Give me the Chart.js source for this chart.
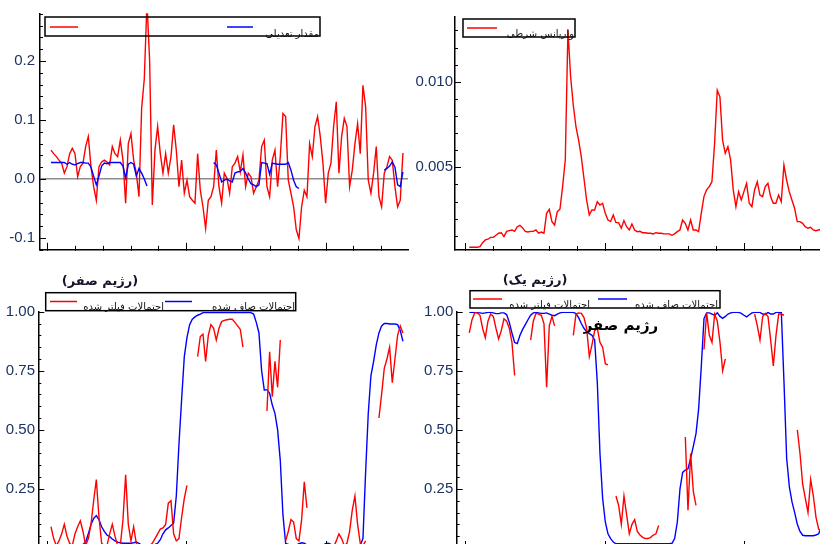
<!DOCTYPE html>
<html>
<head>
<meta charset="utf-8">
<script src="https://cdn.jsdelivr.net/npm/chart.js@4.4.1/dist/chart.umd.min.js"></script>
<style>
  html, body { margin: 0; padding: 0; width: 820px; height: 544px; overflow: hidden; background: #fff; }
  canvas { position: absolute; }
  .cap { position: absolute; font-family: "DejaVu Sans", sans-serif; font-weight: bold; white-space: nowrap; direction: rtl; text-align: center; color: #14142a; }
</style>
</head>
<body>
<canvas id="c1" width="415" height="262" style="left:0;top:0"></canvas>
<canvas id="c2" width="420" height="262" style="left:410px;top:0"></canvas>
<canvas id="c3" width="415" height="300" style="left:0;top:260px"></canvas>
<canvas id="c4" width="420" height="300" style="left:410px;top:260px"></canvas>
<div class="cap" style="left:50px;top:273px;width:100px;font-size:13px">(رژیم صفر)</div>
<div class="cap" style="left:485px;top:272px;width:100px;font-size:13px">(رژیم یک)</div>
<div class="cap" style="left:581px;top:316px;width:80px;font-size:15px;color:#000">رژیم صفر</div>
<script>
const gap = n => Array(n).fill(null);

// top left: adjusted value (red) and its smoothed counterpart (blue)
const adjRed = [0.049,0.043,0.038,0.032,0.027,0.010,0.021,0.043,0.052,0.043,
  0.004,0.021,0.027,0.055,0.072,0.021,-0.013,-0.036,0.021,0.029,
  0.032,0.029,0.024,0.055,0.043,0.038,0.066,0.032,-0.041,0.060,
  0.077,0.032,0.010,-0.030,0.120,0.170,0.300,0.200,-0.044,0.049,
  0.089,0.043,0.010,0.043,0.010,0.038,0.092,0.049,-0.013,0.032,
  -0.024,-0.002,-0.030,-0.036,-0.041,0.043,-0.019,-0.047,-0.084,-0.036,
  -0.030,-0.013,0.049,-0.013,-0.041,0.010,0.001,-0.024,0.021,0.027,
  0.038,0.012,0.041,-0.013,0.010,0.004,-0.024,-0.013,-0.002,0.055,
  0.066,-0.013,-0.030,0.032,0.049,-0.013,0.038,0.111,0.106,-0.002,
  -0.024,-0.047,-0.086,-0.101,-0.047,-0.019,-0.030,0.060,0.038,0.089,
  0.106,0.072,0.027,-0.041,0.010,0.027,0.089,0.131,0.010,0.072,
  0.103,0.089,-0.013,0.015,0.060,0.094,0.043,0.159,0.123,-0.002,
  -0.024,0.010,0.055,-0.030,-0.047,0.010,0.021,0.038,0.032,-0.013,
  -0.047,-0.036,0.044];
const adjBlue = [0.028,0.028,0.028,0.028,0.028,0.028,0.025,0.028,0.025,0.024,
  0.026,0.028,0.028,0.027,0.027,0.020,0.005,-0.010,0.005,0.022,
  0.027,0.026,0.028,0.028,0.028,0.028,0.028,0.022,0.002,0.025,
  0.028,0.025,0.005,0.018,0.010,0.000,-0.012,
  ...gap(24),
  0.028,0.024,0.010,-0.005,-0.002,0.000,-0.003,-0.005,0.010,0.012,
  0.013,0.018,0.010,0.000,-0.008,-0.010,-0.013,-0.010,0.028,0.027,
  0.026,0.008,0.027,0.026,0.025,0.025,0.025,0.025,0.028,0.015,
  -0.002,-0.013,-0.016,
  ...gap(31),
  0.015,0.018,0.022,0.029,0.020,-0.010,-0.013,0.012];

// top right: conditional variance
const condVar = [0.00033,0.00033,0.00033,0.00033,0.00037,0.00060,0.00076,0.00080,0.00091,0.00091,
  0.00103,0.00115,0.00118,0.00095,0.00126,0.00130,0.00134,0.00126,0.00153,0.00161,
  0.00146,0.00126,0.00122,0.00126,0.00126,0.00134,0.00115,0.00122,0.00115,0.00231,
  0.00255,0.00183,0.00163,0.00241,0.00255,0.00387,0.00543,0.01302,0.01029,0.00864,
  0.00737,0.00659,0.00562,0.00436,0.00309,0.00222,0.00251,0.00251,0.00299,0.00280,
  0.00290,0.00231,0.00192,0.00183,0.00222,0.00177,0.00177,0.00144,0.00189,0.00153,
  0.00134,0.00169,0.00134,0.00124,0.00126,0.00118,0.00118,0.00115,0.00115,0.00111,
  0.00118,0.00115,0.00115,0.00111,0.00111,0.00111,0.00103,0.00111,0.00124,0.00134,
  0.00192,0.00173,0.00134,0.00192,0.00134,0.00134,0.00124,0.00231,0.00329,0.00368,
  0.00387,0.00416,0.00640,0.00951,0.00912,0.00659,0.00582,0.00621,0.00543,0.00368,
  0.00270,0.00358,0.00309,0.00358,0.00406,0.00290,0.00270,0.00368,0.00416,0.00338,
  0.00329,0.00387,0.00406,0.00329,0.00290,0.00290,0.00338,0.00299,0.00513,0.00426,
  0.00358,0.00309,0.00261,0.00183,0.00183,0.00173,0.00153,0.00144,0.00150,0.00134,
  0.00130,0.00134,0.00138];

// bottom left: regime zero probabilities
const r0Filtered = [0.09,0.04,0.01,0.03,0.06,0.10,0.05,0.02,0.01,0.06,
  0.09,0.115,0.07,0.01,0.04,0.10,0.20,0.29,0.13,0.02,
  0.01,0.01,0.06,0.10,0.05,0.01,0.01,0.12,0.31,0.10,
  0.03,0.09,0.02,0.005,0.005,0.005,0.005,0.01,0.02,0.04,
  0.06,0.08,0.085,0.10,0.19,0.20,0.06,0.03,0.04,0.13,
  0.21,0.265,
  ...gap(3),
  0.81,0.895,0.905,0.79,0.90,0.945,0.93,0.88,0.93,0.958,
  0.963,0.966,0.968,0.968,0.955,0.94,0.925,0.85,
  ...gap(8),
  0.58,0.83,0.64,0.79,0.68,0.88,
  ...gap(1),
  0.03,0.07,0.12,0.11,0.04,0.03,0.12,0.28,0.17,
  ...gap(9),
  0.005,0.03,0.06,0.04,0.01,0.02,0.07,0.16,0.22,0.10,0.02,0.01,0.03,
  ...gap(4),
  0.55,0.65,0.76,0.80,0.85,0.70,0.80,0.90,0.94,0.91];
const r0Smoothed = [0.010,0.010,0.010,0.010,0.010,0.010,0.010,0.010,0.010,0.010,
  0.010,0.012,0.015,0.025,0.06,0.10,0.125,0.137,0.12,0.09,
  0.07,0.055,0.048,0.038,0.030,0.025,0.022,0.020,0.020,0.020,
  0.020,0.022,0.025,0.020,0.012,0.008,0.008,0.010,0.012,0.015,
  0.020,0.035,0.06,0.077,0.085,0.095,0.105,0.22,0.44,0.63,
  0.81,0.89,0.945,0.968,0.978,0.985,0.99,0.996,0.996,0.996,
  0.996,0.996,0.996,0.996,0.996,0.996,0.996,0.996,0.996,0.996,
  0.996,0.996,0.996,0.996,0.996,0.996,0.99,0.955,0.91,0.75,
  0.668,0.67,0.655,0.605,0.57,0.50,0.37,0.14,0.02,0.015,
  0.01,0.01,0.012,0.018,0.022,0.02,0.012,0.008,0.008,0.008,
  0.008,0.008,0.012,0.018,0.02,0.015,0.008,0.008,0.008,0.008,
  0.008,0.008,0.008,0.008,0.008,0.008,0.012,0.04,0.32,0.57,
  0.73,0.79,0.86,0.91,0.94,0.95,0.95,0.948,0.948,0.948,
  0.945,0.92,0.875];

// bottom right: regime one probabilities
const r1Filtered = [0.91,0.965,0.995,0.995,0.985,0.93,0.89,0.96,0.99,0.98,
  0.93,0.885,0.92,0.97,0.96,0.93,0.87,0.73,
  ...gap(5),
  0.88,0.96,0.993,0.99,0.985,0.95,0.68,0.94,0.98,0.94,
  ...gap(6),
  0.90,0.99,0.995,0.993,0.975,0.93,0.81,0.86,0.92,0.93,0.87,0.85,0.78,0.775,
  ...gap(2),
  0.22,0.18,0.10,0.22,0.14,0.06,0.10,0.12,0.07,0.055,
  0.045,0.04,0.04,0.045,0.055,0.06,0.095,
  ...gap(9),
  0.47,0.16,0.40,0.24,0.18,
  ...gap(2),
  0.84,0.995,0.90,0.87,0.99,0.96,0.87,0.75,0.80,
  ...gap(10),
  0.99,0.94,0.88,0.98,0.993,0.98,0.88,0.77,0.90,0.99,0.99,0.985,
  ...gap(4),
  0.50,0.40,0.27,0.21,0.15,0.29,0.22,0.13,0.08,0.07];
const r1Smoothed = [0.997,0.997,0.997,0.996,0.995,0.993,0.995,0.997,0.997,0.995,
  0.992,0.992,0.995,0.995,0.988,0.955,0.91,0.87,0.865,0.90,
  0.925,0.945,0.966,0.985,0.995,0.997,0.995,0.993,0.993,0.995,
  0.99,0.985,0.983,0.99,0.995,0.997,0.997,0.997,0.997,0.997,
  0.992,0.975,0.95,0.93,0.915,0.907,0.90,0.88,0.70,0.40,
  0.21,0.11,0.06,0.04,0.025,0.018,0.018,0.018,0.018,0.018,
  0.018,0.018,0.018,0.018,0.018,0.018,0.018,0.018,0.018,0.018,
  0.018,0.018,0.018,0.018,0.018,0.018,0.02,0.04,0.11,0.25,
  0.32,0.33,0.335,0.38,0.43,0.484,0.59,0.77,0.97,0.995,
  0.995,0.99,0.985,0.995,0.98,0.972,0.98,0.99,0.995,0.997,
  0.997,0.997,0.993,0.985,0.978,0.987,0.995,0.997,0.997,0.997,
  0.99,0.988,0.997,0.99,0.99,0.997,0.997,0.997,0.70,0.38,
  0.26,0.195,0.15,0.10,0.07,0.054,0.052,0.052,0.052,0.052,
  0.055,0.06,0.09];

const labelsAdj = ['', 'مقدار تعدیلی'];
const labelsVar = ['واریانس شرطی'];
const labelsProb = ['احتمالات فیلتر شده', 'احتمالات صاف شده'];

const RED = '#ff0000', BLUE = '#0000ff';
const xTickStart = -1.5, xTickStep = 10.45;

function points(arr) {
  return arr.map((v, i) => ({ x: i, y: v }));
}

function stepTicks(min, max, step) {
  const out = [];
  for (let i = Math.ceil(min / step - 1e-9); i * step <= max + 1e-12; i++) {
    out.push({ value: +(i * step).toFixed(10) });
  }
  return out;
}

// ticks drawn inward from the axes, as in the source plot
const inwardTicks = {
  id: 'inwardTicks',
  afterDraw(chart) {
    const { ctx, chartArea: a, scales: { x, y } } = chart;
    ctx.save();
    ctx.strokeStyle = '#000';
    ctx.lineWidth = 1;
    ctx.beginPath();
    y.ticks.forEach(t => {
      const py = Math.round(y.getPixelForValue(t.value)) + 0.5;
      const len = t.label ? 6 : 3;
      ctx.moveTo(a.left, py);
      ctx.lineTo(a.left + len, py);
    });
    x.ticks.forEach(t => {
      const px = Math.round(x.getPixelForValue(t.value)) + 0.5;
      const len = t.major ? 7 : 4;
      ctx.moveTo(px, a.bottom + 1);
      ctx.lineTo(px, a.bottom - len);
    });
    ctx.stroke();
    ctx.restore();
  }
};

// boxed legend, positioned like the original
const boxLegend = {
  id: 'boxLegend',
  afterDraw(chart, args, opts) {
    if (!opts.box) return;
    const ctx = chart.ctx;
    ctx.save();
    const [bx, by, bw, bh] = opts.box;
    ctx.strokeStyle = '#000';
    ctx.lineWidth = 1.5;
    ctx.strokeRect(bx, by, bw, bh);
    opts.items.forEach(it => {
      const ds = chart.data.datasets[it.ds];
      ctx.strokeStyle = ds.borderColor;
      ctx.lineWidth = 1.5;
      ctx.beginPath();
      ctx.moveTo(it.x1, it.y);
      ctx.lineTo(it.x2, it.y);
      ctx.stroke();
      if (ds.label) {
        ctx.fillStyle = '#111';
        ctx.font = '10px "DejaVu Sans"';
        ctx.direction = 'rtl';
        ctx.textAlign = 'right';
        ctx.textBaseline = 'alphabetic';
        ctx.fillText(ds.label, it.tx, it.ty);
      }
    });
    ctx.restore();
  }
};

function makeChart(id, datasets, c) {
  const isMajor = v => Math.abs(v / c.yMajor - Math.round(v / c.yMajor)) < 1e-6;
  return new Chart(document.getElementById(id), {
    type: 'line',
    data: { datasets },
    plugins: [inwardTicks, boxLegend],
    options: {
      responsive: false,
      animation: false,
      events: [],
      layout: { padding: c.pad },
      elements: {
        point: { radius: 0 },
        line: { borderWidth: 1.4, tension: 0 }
      },
      scales: {
        x: {
          type: 'linear',
          min: c.xMin,
          max: c.xMax,
          afterBuildTicks: s => {
            const t = [];
            for (let i = 0; xTickStart + i * xTickStep <= c.xMax; i++) {
              const v = xTickStart + i * xTickStep;
              if (v >= c.xMin) t.push({ value: v, major: i % 5 === 0 });
            }
            s.ticks = t;
          },
          afterFit: s => { s.height = 0; s.paddingLeft = s.paddingRight = 0; },
          ticks: { display: false },
          grid: { drawTicks: false, color: 'rgba(0,0,0,0)' },
          border: { display: true, color: '#000', width: 1.5 }
        },
        y: {
          type: 'linear',
          min: c.yMin,
          max: c.yMax,
          afterBuildTicks: s => { s.ticks = stepTicks(c.yMin, c.yMax, c.yStep); },
          afterFit: s => { s.width = c.yWidth; s.paddingTop = s.paddingBottom = 0; },
          ticks: {
            autoSkip: false,
            padding: c.labelPad,
            color: '#1c3462',
            font: { family: 'Liberation Sans', size: 15 },
            callback: v => (isMajor(v) && !(c.hideMinLabel && v <= c.yMin)) ? v.toFixed(c.yDigits) : ''
          },
          grid: {
            drawTicks: false,
            lineWidth: 1.4,
            color: ctx => (c.zeroLine && ctx.tick && Math.abs(ctx.tick.value) < 1e-9) ? '#8c8c8c' : 'rgba(0,0,0,0)'
          },
          border: { display: true, color: '#000', width: 1.5 }
        }
      },
      plugins: {
        legend: { display: false },
        tooltip: { enabled: false },
        boxLegend: c.legend
      }
    }
  });
}

makeChart('c1', [
  { label: labelsAdj[0], data: points(adjRed), borderColor: RED, order: 1 },
  { label: labelsAdj[1], data: points(adjBlue), borderColor: BLUE, order: 0 }
], {
  xMin: -4.12, xMax: 133.9, yMin: -0.12, yMax: 0.281, yStep: 0.02, yMajor: 0.1, yDigits: 1,
  yWidth: 40, labelPad: 5, zeroLine: true,
  pad: { left: 0, top: 13.3, right: 7, bottom: 12.2 },
  legend: {
    box: [45, 17, 275, 19],
    items: [
      { ds: 0, x1: 50, x2: 78, y: 27 },
      { ds: 1, x1: 227, x2: 253, y: 27, tx: 319, ty: 37 }
    ]
  }
});

makeChart('c2', [
  { label: labelsVar[0], data: points(condVar), borderColor: RED }
], {
  xMin: -5.36, xMax: 132.66, yMin: 0.00017, yMax: 0.0138, yStep: 0.001, yMajor: 0.005, yDigits: 3,
  yWidth: 45, labelPad: 2, zeroLine: false,
  pad: { left: 0, top: 16.7, right: 7, bottom: 12 },
  legend: {
    box: [53, 19, 112, 18],
    items: [
      { ds: 0, x1: 57, x2: 87, y: 28, tx: 164, ty: 37 }
    ]
  }
});

makeChart('c3', [
  { label: labelsProb[0], data: points(r0Filtered), borderColor: RED },
  { label: labelsProb[1], data: points(r0Smoothed), borderColor: BLUE }
], {
  xMin: -4.76, xMax: 133.9, yMin: 0, yMax: 1, yStep: 0.05, yMajor: 0.25, yDigits: 2,
  yWidth: 38.3, labelPad: 3.3, zeroLine: false, hideMinLabel: true,
  pad: { left: 0, top: 51.7, right: 7, bottom: 12 },
  legend: {
    box: [45.7, 32.7, 250, 18],
    items: [
      { ds: 0, x1: 50, x2: 77, y: 41.5, tx: 164, ty: 50 },
      { ds: 1, x1: 165, x2: 192, y: 41.5, tx: 295, ty: 50 }
    ]
  }
});

makeChart('c4', [
  { label: labelsProb[0], data: points(r1Filtered), borderColor: RED },
  { label: labelsProb[1], data: points(r1Smoothed), borderColor: BLUE }
], {
  xMin: -4.72, xMax: 132.66, yMin: 0, yMax: 1, yStep: 0.05, yMajor: 0.25, yDigits: 2,
  yWidth: 46.7, labelPad: 3.4, zeroLine: false, hideMinLabel: true,
  pad: { left: 0, top: 51.7, right: 6.9, bottom: 12 },
  legend: {
    box: [60, 30.7, 250, 17.3],
    items: [
      { ds: 0, x1: 63, x2: 92, y: 39, tx: 180, ty: 48 },
      { ds: 1, x1: 188, x2: 217, y: 39, tx: 308, ty: 48 }
    ]
  }
});
</script>
</body>
</html>
